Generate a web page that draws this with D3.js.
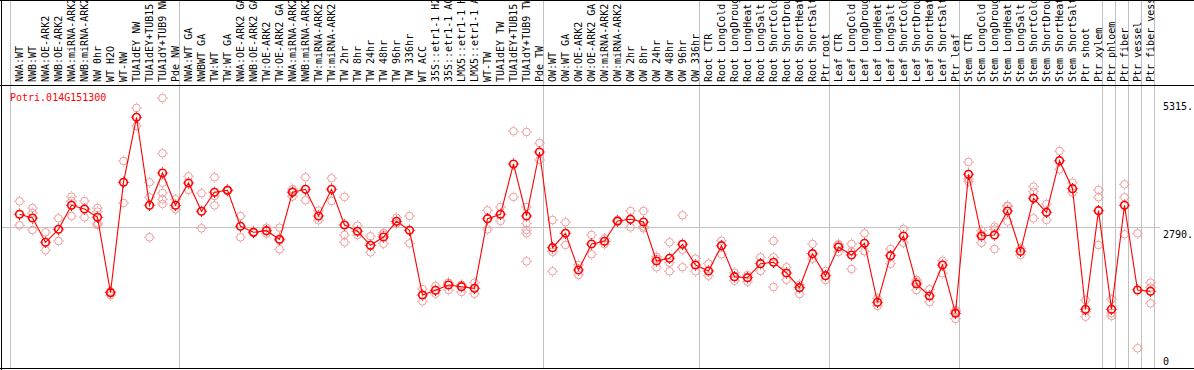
<!DOCTYPE html>
<html>
<head>
<meta charset="utf-8">
<script src="https://cdn.jsdelivr.net/npm/d3@7"></script>
<style>
body { margin: 0; background: #fff; }
svg { display: block; }
text { font-family: "DejaVu Sans Mono", monospace; font-size: 10px; }
</style>
</head>
<body>
<div id="chart"></div>
<script>
var svgWidth = 1194;
var svgHeight = 370;

var gene = 'Potri.014G151300';

var samples = [
    'NWA:WT', 'NWB:WT', 'NWA:OE-ARK2', 'NWB:OE-ARK2', 'NWA:miRNA-ARK2', 'NWB:miRNA-ARK2',
    'NW 0hr', 'WT H2O', 'WT-NW', 'TUA1dEY NW', 'TUA1dEY+TUB15 NW', 'TUA1dY+TUB9 NW', 'Pde NW',
    'NWA:WT GA', 'NWBWT GA', 'TW:WT', 'TW:WT GA', 'NWA:OE-ARK2 GA', 'NWB:OE-ARK2 GA',
    'TW:OE-ARK2', 'TW:OE-ARK2 GA', 'NWA:miRNA-ARK2 GA', 'NWB:miRNA-ARK2 GA', 'TW:miRNA-ARK2',
    'TW:miRNA-ARK2 GA', 'TW 2hr', 'TW 8hr', 'TW 24hr', 'TW 48hr', 'TW 96hr', 'TW 336hr', 'WT ACC',
    '35S::etr1-1 H2O', '35S::etr1-1 ACC', 'LMX5::etr1-1 H2O', 'LMX5::etr1-1 ACC', 'WT-TW',
    'TUA1dEY TW', 'TUA1dEY+TUB15 TW', 'TUA1dY+TUB9 TW', 'Pde TW',
    'OW:WT', 'OW:WT GA', 'OW:OE-ARK2', 'OW:OE-ARK2 GA', 'OW:miRNA-ARK2', 'OW:miRNA-ARK2 GA',
    'OW 2hr', 'OW 8hr', 'OW 24hr', 'OW 48hr', 'OW 96hr', 'OW 336hr',
    'Root CTR', 'Root LongCold', 'Root LongDrought', 'Root LongHeat', 'Root LongSalt',
    'Root ShortCold', 'Root ShortDrought', 'Root ShortHeat', 'Root ShortSalt', 'Ptr root',
    'Leaf CTR', 'Leaf LongCold', 'Leaf LongDrought', 'Leaf LongHeat', 'Leaf LongSalt',
    'Leaf ShortCold', 'Leaf ShortDrought', 'Leaf ShortHeat', 'Leaf ShortSalt', 'Ptr leaf',
    'Stem CTR', 'Stem LongCold', 'Stem LongDrought', 'Stem LongHeat', 'Stem LongSalt',
    'Stem ShortCold', 'Stem ShortDrought', 'Stem ShortHeat', 'Stem ShortSalt', 'Ptr shoot',
    'Ptr xylem', 'Ptr phloem', 'Ptr fiber', 'Ptr vessel', 'Ptr fiber vessel'
];

var means = [
    3041, 2968, 2487, 2744, 3219, 3146, 2982, 1490, 3674, 4961, 3219, 3858, 3219,
    3661, 3101, 3477, 3516, 2804, 2685, 2717, 2547, 3477, 3536, 3008, 3536, 2830, 2705,
    2428, 2592, 2903, 2725, 1444, 1537, 1642, 1609, 1577, 2954, 3041, 4037, 3008, 4274,
    2380, 2665, 1939, 2454, 2507, 2909, 2942, 2889, 2117, 2171, 2448, 2038,
    1919, 2420, 1807, 1787, 2064, 2091, 1880, 1589, 2262, 1826,
    2394, 2236, 2467, 1300, 2222, 2612, 1662, 1425, 2038, 1082,
    3833, 2612, 2632, 3107, 2309, 3358, 3081, 4102, 3548, 1161, 3113,
    1161, 3219, 1543, 1518
];

var reps = [
    [3298, 2824], [3166, 3067, 2731], [2685, 2329], [2962, 2513], [3390, 3304, 3008],
    [3304, 2982], [3166, 3093, 2863, 2830], [1518, 1438, 1500], [4096, 3265], [5145, 4788],
    [3674, 3378, 2586], [5342, 4248, 3667, 3463, 3338, 3245], [3338, 3140],
    [3793, 3522], [3457, 2764], [3773, 3403, 3219], [3530, 3500], [3008, 2586], [2697, 2670],
    [2776, 2660], [2776, 2349, 2520], [3542, 3390, 3500], [3773, 3318], [3113, 2923],
    [3754, 3304], [3384, 2632, 2487], [2816, 2632], [2606, 2289], [2671, 2460, 2640],
    [2974, 2863], [3008, 2467], [1563, 1320], [1623, 1470], [1688, 1543, 1680],
    [1648, 1504, 1640], [1688, 1470], [3120, 2744], [3186, 2909], [4684, 3384],
    [4670, 3186, 2863, 2731, 2665, 2111], [4452, 4116],
    [2928, 1913, 2300], [2883, 2434], [2040, 1840], [2632, 2250], [2566, 2450], [2930, 2890],
    [3107, 2784], [3107, 2764, 2800], [2202, 1993, 2160], [2487, 2084, 1913],
    [3021, 2341, 1993], [2163, 1913],
    [2064, 1826], [2519, 2250], [1886, 1727], [1840, 1708], [2190, 1919],
    [2513, 2190, 1603], [1993, 1747], [1648, 1464], [2454, 2163], [1919, 1740],
    [2434, 2295, 2450], [2454, 1959, 2300], [2665, 2309], [1379, 1230], [2355, 2064],
    [2750, 2479], [1741, 1543, 1700], [1557, 1306], [2123, 1874], [1148, 970, 1120],
    [4076, 3686, 3740], [2717, 2479, 2640], [2796, 2355, 2740], [3211, 2895, 3200],
    [2369, 2236], [3587, 3488, 2962], [3245, 2928], [4294, 3932], [3667, 3469],
    [1345, 1015, 1120], [3522, 3378, 2434],
    [1359, 1029, 1090], [3635, 3378, 2646], [2665, 390], [1688, 1280, 1590]
];

// first sample of each block (last entry closes the final block)
var groupStarts = [0, 13, 41, 53, 63, 73, 84, 85, 86, 87, 88];

var tickValues = [0, 2790, 5315];
var tickLabels = ['0', '2790.', '5315.'];

var headerBottom = 85.5;
var plotBottom = 368.5;

var svg = d3.select('#chart')
    .append('svg')
    .attr('width', svgWidth)
    .attr('height', svgHeight);

var x = d3.scaleBand()
    .domain(d3.range(samples.length))
    .range([10.5, 10.5 + 13 * samples.length]);

var y = d3.scaleLinear()
    .domain([0, 5580])
    .range([368, 86]);

var cx = i => x(i) + 9;

// block separators
svg.append('g')
    .selectAll('line')
    .data(groupStarts)
    .enter()
    .append('line')
    .attr('x1', d => d < samples.length ? x(d) : x.range()[1])
    .attr('x2', d => d < samples.length ? x(d) : x.range()[1])
    .attr('y1', 0)
    .attr('y2', plotBottom)
    .attr('stroke', '#c0c0c0')
    .attr('stroke-width', 1)
    .attr('shape-rendering', 'crispEdges');

// middle gridline
svg.append('line')
    .attr('x1', 1)
    .attr('x2', 1160)
    .attr('y1', Math.round(y(2790)) + 0.5)
    .attr('y2', Math.round(y(2790)) + 0.5)
    .attr('stroke', '#c0c0c0')
    .attr('shape-rendering', 'crispEdges');

// frame
var frame = svg.append('g')
    .attr('stroke', '#000')
    .attr('shape-rendering', 'crispEdges');
frame.append('line').attr('x1', 0).attr('x2', svgWidth).attr('y1', 0.5).attr('y2', 0.5);
frame.append('line').attr('x1', 0).attr('x2', svgWidth).attr('y1', headerBottom).attr('y2', headerBottom);
frame.append('line').attr('x1', 0).attr('x2', svgWidth).attr('y1', plotBottom).attr('y2', plotBottom);
frame.append('line').attr('x1', 1.5).attr('x2', 1.5).attr('y1', 0).attr('y2', svgHeight);

// sample labels, rotated (long ones run off the top, as in the original)
svg.append('g')
    .selectAll('text')
    .data(samples)
    .enter()
    .append('text')
    .attr('transform', (d, i) => `translate(${cx(i) + 3},82) rotate(-90)`)
    .attr('fill', '#000')
    .text(d => d);

// gene name
svg.append('text')
    .attr('x', 10)
    .attr('y', 101)
    .attr('fill', 'red')
    .text(gene);

// right axis labels
svg.append('g')
    .selectAll('text')
    .data(tickValues)
    .enter()
    .append('text')
    .attr('x', 1163)
    .attr('y', d => Math.min(y(d) + 10.5, 365))
    .attr('fill', '#000')
    .text((d, i) => tickLabels[i]);

function marker(g, r, color, width, gap) {
    g.append('circle')
        .attr('r', r)
        .attr('fill', 'none')
        .attr('stroke', color)
        .attr('stroke-width', width);
    var a = r + gap, b = a + 1;
    g.append('path')
        .attr('d', `M0,${-b}V${-a}M0,${a}V${b}M${-b},0H${-a}M${a},0H${b}`)
        .attr('stroke', color)
        .attr('stroke-width', 1);
}

// replicate points
var repPoints = [];
reps.forEach(function (list, i) {
    list.forEach(function (v) {
        repPoints.push({ i: i, v: v });
    });
});

svg.append('g')
    .selectAll('g')
    .data(repPoints)
    .enter()
    .append('g')
    .attr('transform', d => `translate(${cx(d.i)},${y(d.v)})`)
    .each(function () {
        marker(d3.select(this), 3.8, '#f09a9a', 1, 0.6);
    });

// mean line
var line = d3.line()
    .x((d, i) => cx(i))
    .y(d => y(d));

svg.append('path')
    .datum(means)
    .attr('d', line)
    .attr('fill', 'none')
    .attr('stroke', 'red')
    .attr('stroke-width', 1.1);

// mean markers
svg.append('g')
    .selectAll('g')
    .data(means)
    .enter()
    .append('g')
    .attr('transform', (d, i) => `translate(${cx(i)},${y(d)})`)
    .each(function () {
        marker(d3.select(this), 3.8, 'red', 1.6, 0.9);
    });
</script>
</body>
</html>
